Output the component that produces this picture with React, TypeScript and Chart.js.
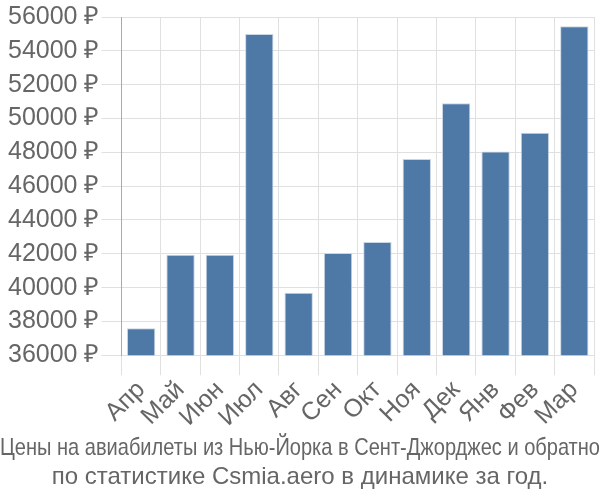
import React, { useEffect, useRef } from "react";
import { Chart, registerables } from "chart.js";

Chart.register(...registerables);

const categories = ["Апр", "Май", "Июн", "Июл", "Авг", "Сен", "Окт", "Ноя", "Дек", "Янв", "Фев", "Мар"];
const prices = [37600, 41950, 41950, 55000, 39700, 42050, 42700, 47600, 50900, 48050, 49150, 55450];
const titleLines = [
  "Цены на авиабилеты из Нью-Йорка в Сент-Джорджес и обратно",
  "по статистике Csmia.aero в динамике за год.",
];
const yMin = 36000;
const yMax = 56000;
const yStep = 2000;
const currency = " ₽";

export default function App() {
  const ref = useRef<HTMLCanvasElement>(null);
  useEffect(() => {
    document.body.style.margin = "0";
    const font = "'Liberation Sans', Arial, sans-serif";
    const chart = new Chart(ref.current!, {
      type: "bar",
      data: {
        labels: categories,
        datasets: [
          {
            data: prices,
            backgroundColor: "#4e79a7",
            borderColor: "#c9d5e3",
            borderWidth: 1,
          },
        ],
      },
      options: {
        animation: false,
        responsive: false,
        layout: { padding: { left: 0, right: 0, top: -1, bottom: 0 } },
        plugins: {
          legend: { display: false },
          tooltip: { enabled: false },
          title: {
            display: true,
            position: "bottom",
            text: titleLines,
            color: "#666",
            font: { family: font, size: 24, weight: "normal", lineHeight: 1.2 },
            padding: { top: 2, bottom: 8 },
          },
        },
        scales: {
          x: {
            grid: { color: "#e0e0e0", tickLength: 20, offset: true },
            border: { color: "#e0e0e0" },
            ticks: {
              color: "#666",
              font: { family: font, size: 25 },
              minRotation: 45,
              maxRotation: 45,
              autoSkip: false,
              padding: 0,
            },
          },
          y: {
            min: yMin,
            max: yMax,
            grid: { color: "#e0e0e0", tickLength: 20 },
            border: { color: "#aaa" },
            afterFit: (s: any) => {
              s.width += 6;
            },
            ticks: {
              stepSize: yStep,
              color: "#666",
              font: { family: font, size: 25 },
              padding: 2,
              callback: (v: any) => v + currency,
            },
          },
          yRight: {
            position: "right",
            display: true,
            grid: { display: false, drawOnChartArea: false },
            border: { display: false },
            ticks: { display: false },
            afterFit: (s: any) => {
              s.width = 6;
            },
          },
        },
      },
    });
    return () => chart.destroy();
  }, []);
  return <canvas ref={ref} width={600} height={500} />;
}
